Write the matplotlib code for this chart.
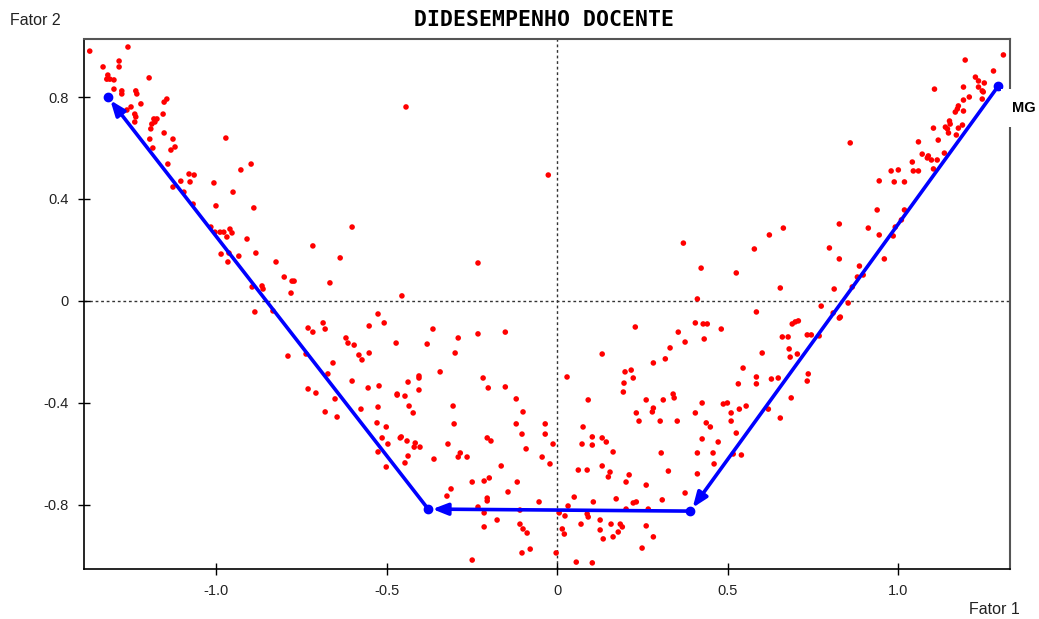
#!/usr/bin/env python3

import matplotlib
matplotlib.use('Agg')
import matplotlib.pyplot as plt

# Fator 1 / Fator 2 scores
fator1 = [
	-1.370, -1.258, -1.331, -1.284, -1.284, -1.317, -1.320, -1.311, -1.299, -1.299,
	-1.276, -1.276, -1.196, -1.235, -1.232, -1.220, -1.249, -1.261, -1.238, -1.235,
	-1.238, -1.152, -1.144, -1.155, -1.182, -1.173, -1.188, -1.179, -1.191, -1.152,
	-1.194, -1.126, -1.185, -1.132, -1.120, -1.141, -0.971, -1.079, -1.064, -1.103,
	-1.076, -1.126, -1.094, -1.006, -0.927, -0.897, -0.950, -1.000, -0.889, -1.067,
	-1.015, -0.988, -1.003, -0.977, -0.959, -0.953, -0.968, -0.909, -0.601, -0.985,
	-0.965, -0.962, -0.933, -0.883, -0.716, -0.824, -0.636, -0.800, -0.777, -0.771,
	-0.780, -0.666, -0.894, -0.865, -0.862, -0.886, -0.833, -0.730, -0.716, -0.686,
	-0.680, -0.619, -0.613, -0.595, -0.525, -0.551, -0.507, -0.472, -0.789, -0.736,
	-0.581, -0.572, -0.551, -0.657, -0.672, -0.601, -0.730, -0.707, -0.554, -0.522,
	-0.469, -0.651, -0.680, -0.645, -0.575, -0.525, -0.528, -0.501, -0.513, -0.460,
	-0.496, -0.525, -0.501, -0.364, -0.381, -0.290, -0.232, -0.152, -0.299, -0.437,
	-0.405, -0.405, -0.343, -0.469, -0.446, -0.405, -0.434, -0.422, -0.457, -0.440,
	-0.416, -0.402, -0.419, -0.437, -0.446, -0.361, -0.305, -0.302, -0.320, -0.217,
	-0.202, -0.152, -0.120, -0.100, -0.120, -0.103, -0.091, -0.205, -0.194, -0.284,
	-0.290, -0.264, -0.164, -0.044, -0.021, -0.035, -0.035, -0.012, -0.144, -0.117,
	-0.053, -0.249, -0.214, -0.199, -0.205, -0.205, -0.323, -0.311, -0.232, -0.214,
	-0.214, -0.176, -0.109, -0.109, -0.100, -0.088, -0.079, -0.103, -0.249, -0.003,
	0.006, 0.023, 0.015, 0.021, 0.032, 0.050, 0.029, 0.091, 0.076, 0.103,
	0.073, 0.103, 0.132, 0.144, 0.164, 0.062, 0.088, 0.132, 0.155, 0.150,
	0.132, 0.199, 0.217, 0.223, 0.196, 0.194, 0.229, 0.282, 0.317, 0.331,
	0.355, 0.375, 0.405, 0.261, 0.232, 0.240, 0.279, 0.282, 0.311, 0.340,
	0.343, 0.302, 0.352, 0.405, 0.305, 0.326, 0.411, 0.211, 0.202, 0.261,
	0.173, 0.223, 0.232, 0.202, 0.267, 0.308, 0.375, 0.106, 0.088, 0.091,
	0.070, 0.126, 0.126, 0.158, 0.185, 0.191, 0.179, 0.164, 0.135, 0.261,
	0.282, 0.249, 0.056, 0.103, 0.774, 0.584, 0.428, 0.440, 0.481, 0.431,
	0.425, 0.487, 0.499, 0.534, 0.554, 0.510, 0.545, 0.531, 0.584, 0.584,
	0.628, 0.648, 0.601, 0.660, 0.677, 0.689, 0.698, 0.707, 0.680, 0.683,
	0.704, 0.733, 0.745, 0.768, 0.736, 0.733, 0.686, 0.654, 0.619, 0.510,
	0.525, 0.437, 0.449, 0.425, 0.472, 0.457, 0.460, 0.411, 0.516, 0.540,
	0.830, 0.938, 1.018, 1.009, 0.991, 0.985, 0.912, 0.944, 0.827, 0.798,
	0.827, 0.959, 0.886, 0.880, 0.897, 0.865, 0.812, 0.853, 0.809, 0.827,
	0.663, 0.622, 0.578, 0.525, 0.370, 0.422, 0.411, 0.654, 1.308, 1.196,
	1.279, 1.226, 1.235, 1.252, 1.235, 1.246, 1.249, 1.191, 1.106, 1.208,
	1.191, 1.246, 1.176, 1.173, 1.167, 1.191, 1.150, 1.152, 1.138, 1.144,
	1.147, 1.176, 1.188, 1.170, 1.103, 1.117, 1.059, 0.859, 1.070, 1.088,
	1.085, 1.097, 1.114, 1.135, 1.041, 1.044, 1.059, 1.103, 0.979, 1.000,
	0.944, 0.988, 1.018, -0.443, -0.026, -0.232, -0.455,
]
fator2 = [
	0.980, 0.996, 0.918, 0.941, 0.918, 0.886, 0.870, 0.870, 0.867, 0.831,
	0.824, 0.812, 0.875, 0.824, 0.812, 0.773, 0.761, 0.749, 0.733, 0.722,
	0.702, 0.780, 0.792, 0.733, 0.714, 0.714, 0.694, 0.702, 0.675, 0.659,
	0.635, 0.635, 0.600, 0.592, 0.604, 0.537, 0.639, 0.498, 0.494, 0.470,
	0.467, 0.447, 0.427, 0.463, 0.514, 0.537, 0.427, 0.373, 0.365, 0.380,
	0.290, 0.270, 0.270, 0.270, 0.282, 0.267, 0.251, 0.243, 0.290, 0.184,
	0.153, 0.188, 0.176, 0.188, 0.216, 0.153, 0.169, 0.094, 0.078, 0.078,
	0.031, 0.071, 0.055, 0.059, 0.047, -0.043, -0.039, -0.106, -0.122, -0.086,
	-0.110, -0.145, -0.165, -0.173, -0.051, -0.098, -0.086, -0.165, -0.216, -0.208,
	-0.212, -0.231, -0.204, -0.243, -0.286, -0.314, -0.345, -0.361, -0.341, -0.333,
	-0.365, -0.384, -0.435, -0.455, -0.424, -0.416, -0.478, -0.494, -0.537, -0.537,
	-0.561, -0.592, -0.651, -0.110, -0.169, -0.145, -0.129, -0.122, -0.204, -0.318,
	-0.294, -0.302, -0.278, -0.369, -0.373, -0.349, -0.412, -0.439, -0.533, -0.549,
	-0.557, -0.573, -0.573, -0.608, -0.635, -0.620, -0.412, -0.482, -0.561, -0.302,
	-0.341, -0.337, -0.384, -0.435, -0.482, -0.522, -0.580, -0.537, -0.549, -0.596,
	-0.612, -0.612, -0.647, -0.612, -0.639, -0.482, -0.522, -0.561, -0.749, -0.710,
	-0.788, -0.710, -0.706, -0.694, -0.773, -0.784, -0.765, -0.737, -0.808, -0.831,
	-0.886, -0.859, -0.820, -0.875, -0.894, -0.910, -0.973, -0.988, -1.016, -0.988,
	-0.831, -0.843, -0.894, -0.914, -0.804, -0.769, -0.298, -0.388, -0.494, -0.533,
	-0.561, -0.565, -0.537, -0.553, -0.592, -0.663, -0.663, -0.647, -0.671, -0.690,
	-0.208, -0.278, -0.271, -0.302, -0.322, -0.357, -0.102, -0.243, -0.227, -0.184,
	-0.122, -0.161, -0.086, -0.388, -0.439, -0.471, -0.435, -0.420, -0.388, -0.365,
	-0.380, -0.471, -0.471, -0.439, -0.596, -0.667, -0.596, -0.682, -0.710, -0.722,
	-0.776, -0.792, -0.788, -0.816, -0.816, -0.780, -0.753, -0.788, -0.835, -0.847,
	-0.875, -0.859, -0.898, -0.875, -0.875, -0.886, -0.906, -0.925, -0.933, -0.882,
	-0.925, -0.969, -1.024, -1.027, -0.020, -0.043, -0.090, -0.090, -0.110, -0.149,
	-0.400, -0.404, -0.400, -0.424, -0.412, -0.439, -0.263, -0.325, -0.298, -0.325,
	-0.306, -0.302, -0.204, -0.141, -0.141, -0.090, -0.082, -0.078, -0.188, -0.220,
	-0.208, -0.133, -0.133, -0.137, -0.286, -0.314, -0.380, -0.459, -0.424, -0.471,
	-0.518, -0.478, -0.494, -0.541, -0.553, -0.596, -0.639, -0.678, -0.600, -0.604,
	-0.063, 0.357, 0.357, 0.318, 0.290, 0.255, 0.286, 0.259, 0.302, 0.208,
	0.165, 0.165, 0.137, 0.094, 0.102, 0.055, 0.047, -0.008, -0.047, -0.067,
	0.286, 0.259, 0.204, 0.110, 0.227, 0.129, 0.008, 0.051, 0.965, 0.945,
	0.902, 0.878, 0.863, 0.855, 0.839, 0.824, 0.820, 0.839, 0.831, 0.800,
	0.788, 0.792, 0.765, 0.753, 0.741, 0.745, 0.706, 0.694, 0.682, 0.675,
	0.659, 0.678, 0.690, 0.651, 0.678, 0.631, 0.624, 0.620, 0.576, 0.569,
	0.561, 0.553, 0.553, 0.580, 0.545, 0.510, 0.510, 0.518, 0.510, 0.514,
	0.471, 0.467, 0.467, 0.761, 0.494, 0.149, 0.020,
]

# trajectory of the highlighted group
traj_x = [1.293, 0.390, -0.378, -1.317]
traj_y = [0.843, -0.824, -0.816, 0.800]
traj_label = 'MG'

x_ticks = [-1.0, -0.5, 0, 0.5, 1.0]
x_labels = ['-1.0', '-0.5', '0', '0.5', '1.0']
y_ticks = [0.8, 0.4, 0, -0.4, -0.8]
y_labels = ['0.8', '0.4', '0', '-0.4', '-0.8']

plt.rcParams['font.family'] = ['Liberation Sans', 'DejaVu Sans']

fig = plt.figure(figsize=(10.39, 6.19), dpi=100)
ax = fig.add_axes([0.0808, 0.0808, 0.8915, 0.856])

ax.set_xlim(-1.387, 1.328)
ax.set_ylim(-1.051, 1.027)

ax.axhline(0, color='#333333', lw=1, ls=(0, (2, 2)), zorder=1)
ax.axvline(0, color='#333333', lw=1, ls=(0, (2, 2)), zorder=1)

ax.scatter(fator1, fator2, s=16, color='red', edgecolors='none', zorder=2)

# segments with arrow heads pointing to the next stage
for i in range(len(traj_x) - 1):
	ax.annotate('', xy=(traj_x[i + 1], traj_y[i + 1]), xytext=(traj_x[i], traj_y[i]),
		arrowprops=dict(arrowstyle='-|>,head_length=0.9,head_width=0.35',
			color='blue', lw=2.6, shrinkA=0, shrinkB=3), zorder=3)
ax.plot(traj_x, traj_y, 'o', color='blue', ms=6, zorder=4)

ax.annotate(traj_label, xy=(traj_x[0], traj_y[0]), xytext=(14, -22),
	textcoords='offset pixels', fontsize=10.5, fontweight='bold',
	ha='left', va='center', annotation_clip=False, zorder=5,
	bbox=dict(boxstyle='square,pad=0.8', fc='white', ec='none'))

ax.set_xticks(x_ticks)
ax.set_xticklabels(x_labels)
ax.set_yticks(y_ticks)
ax.set_yticklabels(y_labels)
ax.tick_params(direction='inout', length=8, width=1, labelsize=10.5, pad=7,
	labelcolor='#222222')

for side in ['left', 'bottom']:
	ax.spines[side].set_color('black')
	ax.spines[side].set_linewidth(1.2)
for side in ['top', 'right']:
	ax.spines[side].set_color('#555555')
	ax.spines[side].set_linewidth(1.5)

fig.text(0.524, 0.967, 'DIDESEMPENHO DOCENTE', ha='center', va='center',
	fontsize=15.5, fontweight='bold', family='DejaVu Sans Mono')
fig.text(10 / 1039, 0.967, 'Fator 2', ha='left', va='center', fontsize=11.5,
	color='#222222')
fig.text(1020 / 1039, 0.016, 'Fator 1', ha='right', va='center', fontsize=11.5,
	color='#222222')

fig.savefig('out.png', dpi=100)
